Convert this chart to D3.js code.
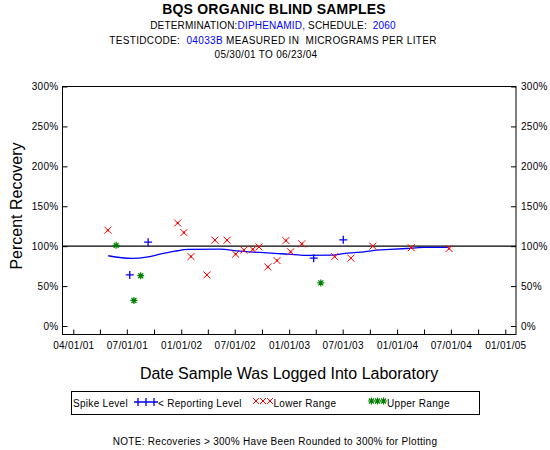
<!DOCTYPE html>
<html><head><meta charset="utf-8">
<script src="https://cdn.jsdelivr.net/npm/d3@7"></script>
<style>
body{margin:0;background:#fff;}
svg{display:block;font-family:"Liberation Sans",Arial,sans-serif;}
.pre{white-space:pre;}
</style></head>
<body><svg id="c" width="550" height="450"></svg>
<script>
// ---- data ----
const lowerDates = ["2001-04-28","2001-12-20","2002-01-10","2002-02-03","2002-03-29","2002-04-25","2002-06-05","2002-07-04","2002-08-01","2002-08-31","2002-09-21","2002-10-21","2002-11-21","2002-12-21","2003-01-06","2003-02-13","2003-06-04","2003-07-29","2003-10-11","2004-02-18","2004-06-25"];
const lowerValues = [120,129,117,87,64,107.5,107.5,90,95,96,99,74,82,107,93,103,87,85,100,98,97];
const upperDates = ["2001-05-26","2001-08-17","2001-07-25","2003-04-18"];
const upperValues = [101,63,32,54];
const reportDates = ["2001-09-11","2001-07-11","2003-03-25","2003-07-03"];
const reportValues = [105,64,85,108];
const trendDates = ["2001-04-29","2001-07-17","2001-09-11","2001-10-21","2001-12-11","2002-01-27","2002-05-12","2002-07-08","2002-09-24","2002-11-14","2002-12-29","2003-02-24","2003-05-29","2003-07-09","2003-08-17","2003-09-25","2003-10-24","2003-12-08","2004-02-03","2004-03-30","2004-06-22"];
const trendValues = [88,84.6,86.6,90,93.7,95.9,96.2,94.1,92.1,90.9,90,88.4,88.7,90.9,92.1,93.7,95,95.9,97.1,98.4,98.4];
const xTickLabels = ["04/01/01","07/01/01","01/01/02","07/01/02","01/01/03","07/01/03","01/01/04","07/01/04","01/01/05"];
const yTicks = [0,50,100,150,200,250,300];
const referenceLevel = [100];

const parse = d3.timeParse("%Y-%m-%d");
const svg = d3.select("#c");
const L = 62.5, R = 516, T = 86.5, B = 334.5;
const x = d3.scaleTime().domain([new Date(2001,0,1), new Date(2005,0,1)]).range([73.3, 505.3]);
const y = d3.scaleLinear().domain([0,300]).range([326, 86.5]);
const BLUE = "#0000ff", RED = "#ff0000", GREEN = "#008000";

// titles
const t = svg.append("g").attr("text-anchor","middle").attr("fill","#000");
t.append("text").attr("x",274).attr("y",14).attr("font-size",14).attr("font-weight","bold").attr("letter-spacing",0.2).text("BQS ORGANIC BLIND SAMPLES");
const l2 = t.append("text").attr("class","pre").attr("x",273).attr("y",29).attr("font-size",10).attr("letter-spacing",0.18);
l2.append("tspan").text("DETERMINATION:");
l2.append("tspan").attr("fill",BLUE).text("DIPHENAMID,");
l2.append("tspan").text(" SCHEDULE:  ");
l2.append("tspan").attr("fill",BLUE).text("2060");
const l3 = t.append("text").attr("class","pre").attr("x",273).attr("y",44).attr("font-size",10).attr("letter-spacing",0.34);
l3.append("tspan").text("TESTIDCODE:  ");
l3.append("tspan").attr("fill",BLUE).text("04033B");
l3.append("tspan").text(" MEASURED IN  MICROGRAMS PER LITER");
t.append("text").attr("x",266).attr("y",58).attr("font-size",10).attr("letter-spacing",0.3).text("05/30/01  TO  06/23/04");

// frame
svg.append("rect").attr("x",L).attr("y",T).attr("width",R-L).attr("height",B-T).attr("fill","none").attr("stroke","#000").attr("stroke-width",1);

// y axes
const yl = svg.append("g").attr("transform",`translate(${L},0)`).call(d3.axisLeft(y).tickValues(yTicks).tickSize(-5).tickPadding(4).tickFormat(d=>d+"%"));
const yr = svg.append("g").attr("transform",`translate(${R},0)`).call(d3.axisRight(y).tickValues(yTicks).tickSize(-5).tickPadding(5).tickFormat(d=>d+"%"));
[yl,yr].forEach(g=>{g.select(".domain").remove();g.selectAll("text").attr("font-size",10).attr("font-family","Liberation Sans, Arial, sans-serif").attr("letter-spacing",0.3);g.selectAll("line").attr("stroke","#000");});

// x axis
const quarters = d3.timeMonth.every(3).range(new Date(2001,0,1), new Date(2005,0,2));
const xa = svg.append("g").attr("transform",`translate(0,${B})`).call(d3.axisBottom(x).tickValues(quarters).tickSize(-5).tickPadding(7).tickFormat((d,i)=> i%2===0 ? xTickLabels[i/2] : ""));
xa.select(".domain").remove();
xa.selectAll("text").attr("font-size",10).attr("font-family","Liberation Sans, Arial, sans-serif").attr("letter-spacing",0.3);
xa.selectAll("line").attr("stroke","#000");

// reference line
svg.selectAll(".ref").data(referenceLevel).enter().append("line").attr("x1",L).attr("x2",R).attr("y1",d=>y(d)).attr("y2",d=>y(d)).attr("stroke","#000").attr("stroke-width",1.2);

// trend line
const trend = trendDates.map((d,i)=>({d:parse(d),v:trendValues[i]}));
svg.append("path").datum(trend).attr("fill","none").attr("stroke",BLUE).attr("stroke-width",1.3)
  .attr("d",d3.line().x(p=>x(p.d)).y(p=>y(p.v)).curve(d3.curveMonotoneX));

// markers
function xMark(g,c){g.append("path").attr("d","M-3.5,-3.5L3.5,3.5M-3.5,3.5L3.5,-3.5").attr("stroke",c).attr("stroke-width",1);
  g.append("rect").attr("x",-1).attr("y",-1).attr("width",2).attr("height",2).attr("fill",c);}
function plusMark(g,c){g.append("path").attr("d","M-4,0L4,0M0,-4L0,4").attr("stroke",c).attr("stroke-width",1.3);}
function starMark(g,c){g.append("path").attr("d","M-3.5,0L3.5,0M0,-3.5L0,3.5M-2.5,-2.5L2.5,2.5M-2.5,2.5L2.5,-2.5").attr("stroke",c).attr("stroke-width",1.2);}

const lower = lowerDates.map((d,i)=>({d:parse(d),v:lowerValues[i]}));
svg.selectAll(".lo").data(lower).enter().append("g").attr("transform",p=>`translate(${x(p.d)},${y(p.v)})`).each(function(){xMark(d3.select(this),RED);});
const upper = upperDates.map((d,i)=>({d:parse(d),v:upperValues[i]}));
svg.selectAll(".up").data(upper).enter().append("g").attr("transform",p=>`translate(${x(p.d)},${y(p.v)})`).each(function(){starMark(d3.select(this),GREEN);});
const rep = reportDates.map((d,i)=>({d:parse(d),v:reportValues[i]}));
svg.selectAll(".rp").data(rep).enter().append("g").attr("transform",p=>`translate(${x(p.d)},${y(p.v)})`).each(function(){plusMark(d3.select(this),BLUE);});

// axis titles
svg.append("text").attr("x",289).attr("y",379).attr("text-anchor","middle").attr("font-size",16).text("Date Sample Was Logged Into Laboratory");
svg.append("text").attr("transform","translate(22,206) rotate(-90)").attr("text-anchor","middle").attr("font-size",16).text("Percent Recovery");

// legend
const lg = svg.append("g");
lg.append("rect").attr("x",71.5).attr("y",391.5).attr("width",408).attr("height",23).attr("fill","none").attr("stroke","#000");
lg.append("text").attr("x",73).attr("y",407).attr("font-size",10).attr("letter-spacing",0.3).text("Spike Level");
[138,146,154].forEach(cx=>plusMark(lg.append("g").attr("transform",`translate(${cx},402)`),BLUE));
lg.append("text").attr("x",158).attr("y",407).attr("font-size",10).attr("letter-spacing",0.3).text("< Reporting Level");
[256,263,270].forEach(cx=>{const g=lg.append("g").attr("transform",`translate(${cx},401)`);g.append("path").attr("d","M-3,-3L3,3M-3,3L3,-3").attr("stroke",RED);});
lg.append("text").attr("x",273.5).attr("y",407).attr("font-size",10).attr("letter-spacing",0.3).text("Lower Range");
[371.5,377.5,383.5].forEach(cx=>starMark(lg.append("g").attr("transform",`translate(${cx},401)`),GREEN));
lg.append("text").attr("x",387).attr("y",407).attr("font-size",10).attr("letter-spacing",0.3).text("Upper Range");

svg.append("text").attr("x",275).attr("y",445).attr("text-anchor","middle").attr("font-size",10).attr("letter-spacing",0.3).text("NOTE: Recoveries > 300% Have Been Rounded to 300% for Plotting");
</script></body></html>
